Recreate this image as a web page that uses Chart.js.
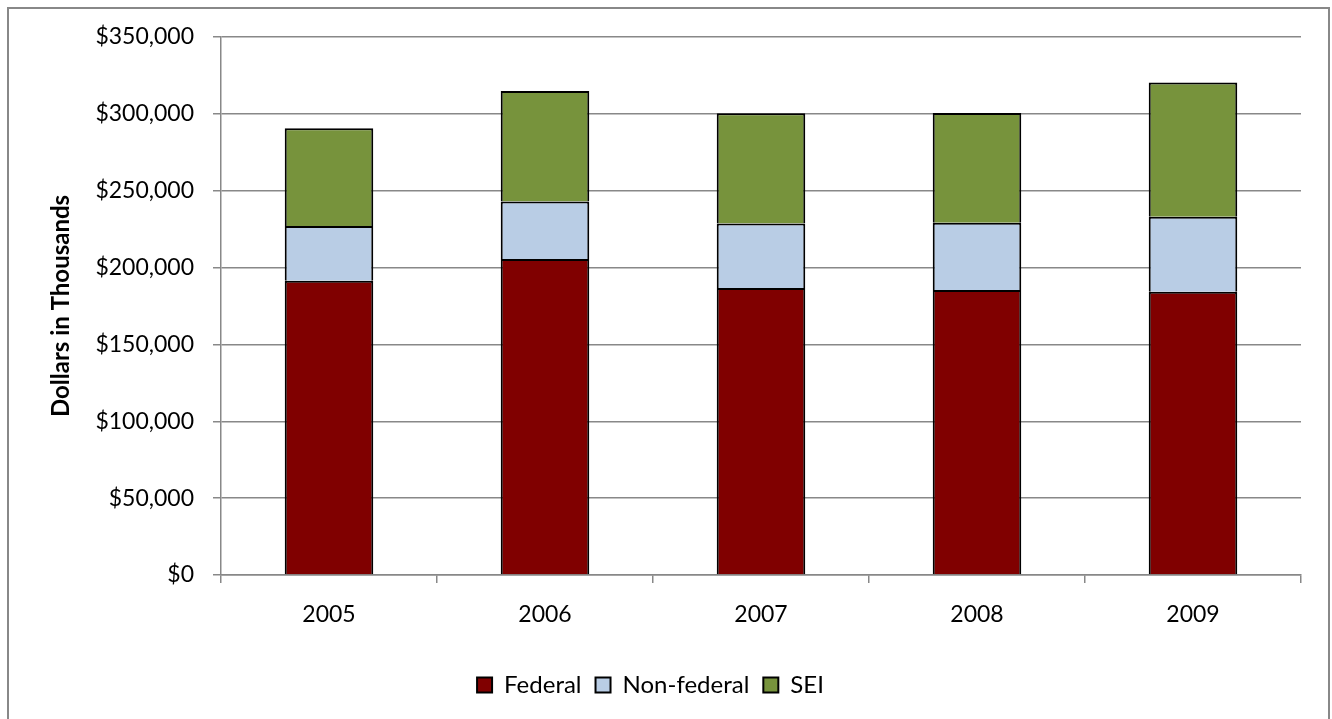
<!DOCTYPE html>
<html>
<head>
<meta charset="utf-8">
<script src="https://cdn.jsdelivr.net/npm/chart.js@4.4.1/dist/chart.umd.min.js"></script>
<style>
  html, body { margin: 0; padding: 0; background: #fff; }
  #wrap { width: 1332px; height: 719px; position: relative; }
</style>
</head>
<body>
<div id="wrap"><canvas id="c" width="1332" height="719"></canvas></div>
<script>
// Funding by source, dollars in thousands
const years = ['2005', '2006', '2007', '2008', '2009'];
const federal = [191500, 205600, 186700, 185400, 184300];
const nonFederal = [35600, 37400, 41900, 43700, 48700];
const sei = [63500, 71900, 71800, 71500, 87400];
const seriesNames = ['Federal', 'Non-federal', 'SEI'];
const yTicks = [0, 50000, 100000, 150000, 200000, 250000, 300000, 350000];

const FONT = "Lato, 'Open Sans', sans-serif";
const GRID = '#888888';

// Outer frame around the whole chart
const framePlugin = {
  id: 'frame',
  afterDraw(chart) {
    const ctx = chart.ctx;
    ctx.save();
    ctx.strokeStyle = GRID;
    ctx.lineWidth = 2;
    ctx.strokeRect(8, 8, 1321, 730);
    ctx.restore();
  }
};

const fmt = v => '$' + v.toLocaleString('en-US');

new Chart(document.getElementById('c'), {
  type: 'bar',
  data: {
    labels: years,
    datasets: [
      { label: seriesNames[0], data: federal, backgroundColor: '#800000' },
      { label: seriesNames[1], data: nonFederal, backgroundColor: '#B9CDE5' },
      { label: seriesNames[2], data: sei, backgroundColor: '#77933C' }
    ].map(d => Object.assign(d, {
      borderColor: '#000000',
      borderWidth: 2,
      barPercentage: 0.41,
      categoryPercentage: 1.0
    }))
  },
  options: {
    responsive: false,
    animation: false,
    devicePixelRatio: 1,
    layout: { padding: { top: 37, right: 31, left: 0, bottom: 12 } },
    plugins: {
      legend: {
        position: 'bottom',
        labels: {
          color: '#000',
          font: { family: FONT, size: 24 },
          boxWidth: 15,
          boxHeight: 15,
          padding: 14,
          useBorderRadius: false
        }
      },
      tooltip: { enabled: false }
    },
    scales: {
      x: {
        stacked: true,
        grid: { display: true, drawOnChartArea: false, drawTicks: true, tickLength: 8, color: GRID, lineWidth: 1.5, offset: true },
        border: { display: true, color: GRID, width: 1.5 },
        ticks: { color: '#000', font: { family: FONT, size: 23 }, padding: 18 },
        afterFit(scale) { scale.height = 84; }
      },
      y: {
        stacked: true,
        min: 0,
        max: 350000,
        afterBuildTicks(scale) { scale.ticks = yTicks.map(v => ({ value: v })); },
        grid: { color: GRID, lineWidth: 1.5, drawTicks: true, tickLength: 8 },
        border: { display: true, color: GRID, width: 1.5 },
        ticks: { color: '#000', font: { family: FONT, size: 23 }, padding: 19, callback: v => fmt(v) },
        title: {
          display: true,
          text: 'Dollars in Thousands',
          color: '#000',
          font: { family: FONT, size: 24, weight: 'bold' },
          padding: { top: 47, bottom: 0 }
        },
        afterFit(scale) { scale.width = 221; }
      }
    }
  },
  plugins: [framePlugin]
});
</script>
</body>
</html>
